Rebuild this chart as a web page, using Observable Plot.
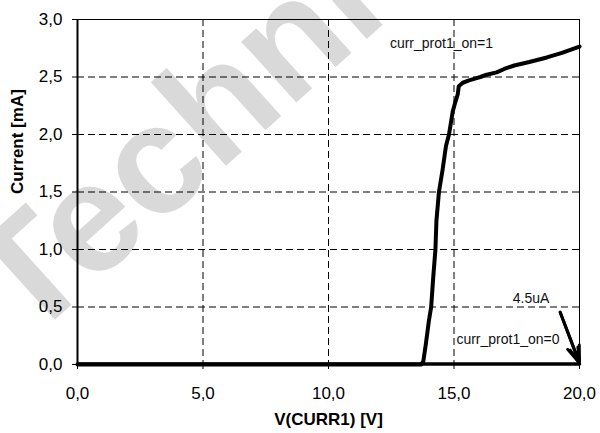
<!DOCTYPE html>
<html>
<head>
<meta charset="utf-8">
<script src="https://cdn.jsdelivr.net/npm/d3@7"></script>
<script src="https://cdn.jsdelivr.net/npm/@observablehq/plot@0.6"></script>
<style>
  html, body { margin: 0; padding: 0; background: #fff; }
  #wrap { position: relative; width: 600px; height: 433px; overflow: hidden; font-family: "Liberation Sans", Arial, sans-serif; }
  #wm { position: absolute; left: 0; top: 0; }
  #chart { position: absolute; left: 0; top: 0; }
</style>
</head>
<body>
<div id="wrap">
  <svg id="wm" width="600" height="433"><text id="wmtext" x="28" y="344" transform="rotate(-42 28 344)" font-family="Liberation Sans, Arial, sans-serif" font-weight="bold" font-size="155" fill="#d9d9d9">Technical</text></svg>
  <div id="chart"></div>
</div>
<script>
// Curve with curr_prot1_on = 1 (V in volts, I in mA)
const vOn = [0, 13.7, 13.78, 13.88, 14.0, 14.09, 14.17, 14.26, 14.3, 14.4, 14.55, 14.68, 14.8, 14.95, 15.05, 15.15, 15.19, 15.35, 15.6, 15.9, 16.05, 16.3, 16.7, 17.0, 17.4, 18.0, 18.7, 19.3, 20];
const iOn = [0, 0, 0.03, 0.18, 0.38, 0.5, 0.75, 1.0, 1.25, 1.5, 1.7, 1.9, 2.0, 2.2, 2.28, 2.35, 2.42, 2.45, 2.47, 2.49, 2.5, 2.52, 2.54, 2.57, 2.6, 2.63, 2.67, 2.71, 2.765];
// Curve with curr_prot1_on = 0 (4.5 uA)
const vOff = [0, 20];
const iOff = [0.0045, 0.0045];

const xTicks = [0, 5, 10, 15, 20];
const yTicks = [0, 0.5, 1.0, 1.5, 2.0, 2.5, 3.0];
const xGrid = [5, 10, 15];
const yGrid = [0.5, 1.0, 1.5, 2.0, 2.5];

const labelTexts = ["curr_prot1_on=1", "4.5uA", "curr_prot1_on=0"];
const labelV = [14.5, 18.07, 17.15];
const labelI = [2.79, 0.57, 0.218];

const arrowFromV = [19.23];
const arrowFromI = [0.455];
const arrowToV = [20];
const arrowToI = [0.012];

const xTitle = "V(CURR1) [V]";
const yTitle = "Current [mA]";

const onData = vOn.map((v, i) => ({v, i: iOn[i]}));
const offData = vOff.map((v, i) => ({v, i: iOff[i]}));
const labels = labelTexts.map((t, k) => ({t, v: labelV[k], i: labelI[k]}));
const arrows = arrowFromV.map((v, k) => ({v1: v, i1: arrowFromI[k], v2: arrowToV[k], i2: arrowToI[k]}));

const fmt = d => d.toFixed(1).replace(".", ",");
const font = "Liberation Sans, Arial, sans-serif";

const chart = Plot.plot({
  width: 600,
  height: 433,
  marginLeft: 77,
  marginRight: 21,
  marginTop: 19,
  marginBottom: 69,
  style: {fontFamily: font, background: "transparent", color: "#000"},
  x: {domain: [0, 20]},
  y: {domain: [0, 3]},
  marks: [
    Plot.gridX(xGrid, {stroke: "#000", strokeOpacity: 1, strokeWidth: 1, strokeDasharray: "7,4"}),
    Plot.gridY(yGrid, {stroke: "#000", strokeOpacity: 1, strokeWidth: 1, strokeDasharray: "7,4"}),
    Plot.frame({stroke: "#000", strokeWidth: 1}),
    Plot.ruleX([0], {stroke: "#000", strokeWidth: 2}),
    Plot.axisX(xTicks, {tickFormat: fmt, tickSize: 5, tickPadding: 17, fontSize: 17, label: null, stroke: "#000"}),
    Plot.axisY(yTicks, {tickFormat: fmt, tickSize: 5, tickPadding: 10, fontSize: 17, label: null, stroke: "#000"}),
    Plot.line(offData, {x: "v", y: "i", stroke: "#000", strokeWidth: 3.5}),
    Plot.line(onData, {x: "v", y: "i", stroke: "#000", strokeWidth: 4, strokeLinejoin: "round"}),
    Plot.text(labels, {x: "v", y: "i", text: "t", fontSize: 14, fill: "#111", fontFamily: font}),
    Plot.arrow(arrows, {x1: "v1", y1: "i1", x2: "v2", y2: "i2", stroke: "#000", strokeWidth: 3, headLength: 13, headAngle: 40}),
    Plot.arrow(arrows, {x1: "v1", y1: "i1", x2: "v2", y2: "i2", stroke: "#000", strokeWidth: 3, headLength: 8, headAngle: 30}),
    Plot.text([xTitle], {frameAnchor: "bottom", dy: 60, fontSize: 17, fontWeight: "bold", fill: "#000"}),
    Plot.text([yTitle], {frameAnchor: "left", dx: -59.5, dy: 2, rotate: -90, fontSize: 17, fontWeight: "bold", fill: "#000"})
  ]
});
document.getElementById("chart").appendChild(chart);
</script>
</body>
</html>
